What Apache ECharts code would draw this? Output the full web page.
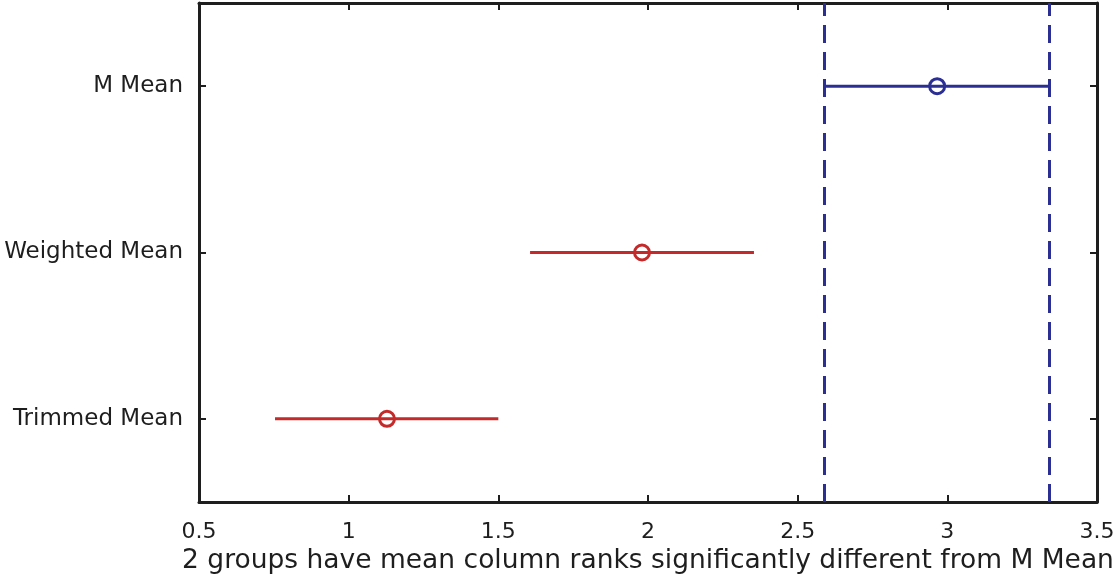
<!DOCTYPE html>
<html><head><meta charset="utf-8">
<script src="https://cdn.jsdelivr.net/npm/echarts@6/dist/echarts.min.js"></script>
<style>html,body{margin:0;padding:0;background:#fff}#c{width:1118px;height:582px}</style>
</head><body><div id="c"></div>
<script>
// Data
const groups = ['Trimmed Mean', 'Weighted Mean', 'M Mean'];
const means  = [1.128, 1.98, 2.966];
const lower  = [0.754, 1.606, 2.59];
const upper  = [1.50, 2.354, 3.337];
const refLines = [2.59, 3.337];
const xTicks = { min: 0.5, max: 3.5, interval: 0.5 };
const xName = '2 groups have mean column ranks significantly different from M Mean';
const selected = 2;

const BLUE = '#2b2f93', RED = '#c42a2a', AX = '#1e1e1e';
const chart = echarts.init(document.getElementById('c'));
const series = [];
groups.forEach((g, i) => {
  const col = i === selected ? BLUE : RED;
  series.push({
    type: 'line', xAxisIndex: 0, yAxisIndex: 0, silent: true,
    data: [[lower[i], g], [upper[i], g]],
    symbol: 'none', lineStyle: { color: col, width: 3 }, z: 3,
    markLine: i === selected ? {
      silent: true, symbol: 'none', label: { show: false },
      lineStyle: { color: BLUE, width: 3, type: [18, 9] },
      data: refLines.map(v => ({ xAxis: v }))
    } : undefined
  });
  series.push({
    type: 'scatter', xAxisIndex: 0, yAxisIndex: 0, silent: true,
    data: [[means[i], g]], symbol: 'circle', symbolSize: 15,
    itemStyle: { color: 'rgba(255,255,255,0)', borderColor: col, borderWidth: 3, opacity: 1 }, z: 4
  });
});
const tickStyle = { show: true, inside: true, length: 7, lineStyle: { color: AX, width: 2 } };
const lineStyle = { show: true, lineStyle: { color: AX, width: 3 } };
chart.setOption({
  animation: false,
  grid: { left: 199, right: 21, top: 3, bottom: 80 },
  xAxis: [{
    type: 'value', min: xTicks.min, max: xTicks.max, interval: xTicks.interval,
    position: 'bottom', axisLine: lineStyle, axisTick: tickStyle, splitLine: { show: false },
    axisLabel: { color: AX, fontFamily: 'DejaVu Sans', fontSize: 22, margin: 19 },
    name: xName, nameLocation: 'middle', nameGap: 44,
    nameTextStyle: { color: AX, fontFamily: 'DejaVu Sans', fontSize: 26.5 }
  }, {
    type: 'value', min: xTicks.min, max: xTicks.max, interval: xTicks.interval,
    position: 'top', axisLine: lineStyle, axisTick: tickStyle, axisLabel: { show: false }, splitLine: { show: false }
  }],
  yAxis: [{
    type: 'category', data: groups, position: 'left', boundaryGap: true,
    axisLine: lineStyle, axisTick: Object.assign({ alignWithLabel: true }, tickStyle),
    axisLabel: { color: AX, fontFamily: 'DejaVu Sans', fontSize: 23, margin: 16 }
  }, {
    type: 'category', data: groups, position: 'right', boundaryGap: true,
    axisLine: lineStyle, axisTick: Object.assign({ alignWithLabel: true }, tickStyle), axisLabel: { show: false }
  }],
  series: series
});
</script></body></html>
